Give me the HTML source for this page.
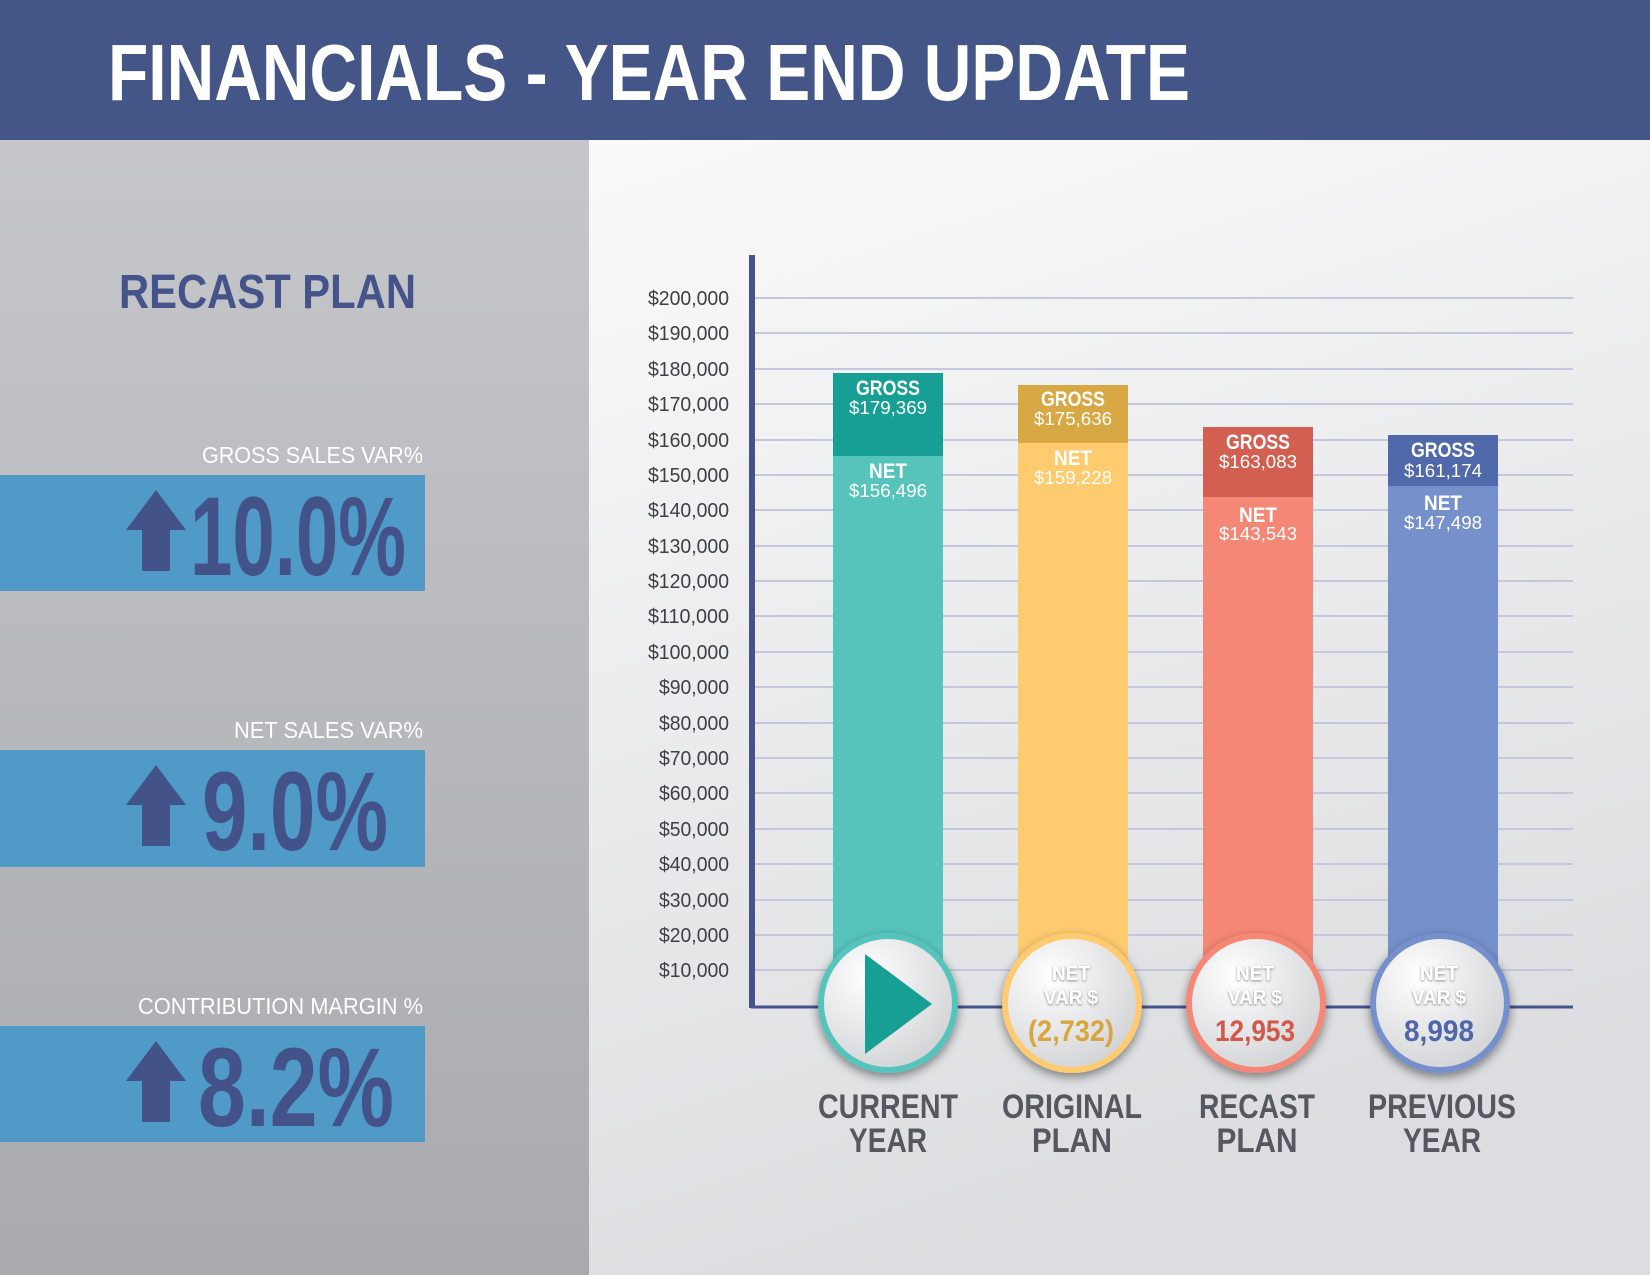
<!DOCTYPE html>
<html><head><meta charset="utf-8"><style>
html,body{margin:0;padding:0;width:1650px;height:1275px;overflow:hidden;}
svg{display:block;font-family:"Liberation Sans Narrow","Liberation Sans",sans-serif;}
</style></head><body>
<svg width="1650" height="1275" viewBox="0 0 1650 1275" xmlns="http://www.w3.org/2000/svg">
<defs>
<linearGradient id="lg" x1="0" y1="0" x2="0" y2="1"><stop offset="0" stop-color="#c6c7ca"/><stop offset="1" stop-color="#a9aaae"/></linearGradient>
<linearGradient id="rg" x1="0" y1="0" x2="0.3" y2="1"><stop offset="0" stop-color="#fafafa"/><stop offset="1" stop-color="#dcdde0"/></linearGradient>
<radialGradient id="cg" cx="0.35" cy="0.3" r="0.8"><stop offset="0" stop-color="#ffffff"/><stop offset="1" stop-color="#cfd0d3"/></radialGradient>
<filter id="sh" x="-30%" y="-30%" width="160%" height="160%"><feDropShadow dx="0" dy="4" stdDeviation="5" flood-color="#000" flood-opacity="0.45"/></filter>
<filter id="ts" x="-20%" y="-20%" width="140%" height="140%"><feDropShadow dx="0" dy="1" stdDeviation="1.2" flood-color="#000" flood-opacity="0.45"/></filter>
</defs>
<rect x="0" y="140" width="589" height="1135" fill="url(#lg)"/>
<rect x="589" y="140" width="1061" height="1135" fill="url(#rg)"/>
<rect x="0" y="0" width="1650" height="140" fill="#445588"/>
<text x="108" y="100" font-size="80" font-weight="bold" fill="#fff" textLength="1082" lengthAdjust="spacingAndGlyphs">FINANCIALS - YEAR END UPDATE</text>

<text x="119" y="308" font-size="48" font-weight="bold" fill="#44538a" textLength="297" lengthAdjust="spacingAndGlyphs">RECAST PLAN</text>

<g fill="#fff" font-size="23">
<text x="202" y="463" textLength="221" lengthAdjust="spacingAndGlyphs">GROSS SALES VAR%</text>
<text x="234" y="738" textLength="189" lengthAdjust="spacingAndGlyphs">NET SALES VAR%</text>
<text x="138" y="1014" textLength="285" lengthAdjust="spacingAndGlyphs">CONTRIBUTION MARGIN %</text>
</g>
<rect x="0" y="475" width="425" height="116" fill="#4f9ac6"/>
<rect x="0" y="750" width="425" height="117" fill="#4f9ac6"/>
<rect x="0" y="1026" width="425" height="116" fill="#4f9ac6"/>
<g fill="#44528a">
<polygon points="156,490 186,530 170,530 170,571 142,571 142,530 126,530"/>
<polygon points="156,765 186,805 170,805 170,846 142,846 142,805 126,805"/>
<polygon points="156,1041 186,1081 170,1081 170,1122 142,1122 142,1081 126,1081"/>
<text x="190" y="575" font-size="112" font-weight="bold" textLength="216" lengthAdjust="spacingAndGlyphs">10.0%</text>
<text x="202" y="850" font-size="112" font-weight="bold" textLength="186" lengthAdjust="spacingAndGlyphs">9.0%</text>
<text x="198" y="1126" font-size="112" font-weight="bold" textLength="196" lengthAdjust="spacingAndGlyphs">8.2%</text>
</g>

<g stroke="#c5c8dc" stroke-width="2">
<line x1="751" x2="1573" y1="298" y2="298"/><line x1="751" x2="1573" y1="333" y2="333"/>
<line x1="751" x2="1573" y1="369" y2="369"/><line x1="751" x2="1573" y1="404" y2="404"/>
<line x1="751" x2="1573" y1="440" y2="440"/><line x1="751" x2="1573" y1="475" y2="475"/>
<line x1="751" x2="1573" y1="510" y2="510"/><line x1="751" x2="1573" y1="546" y2="546"/>
<line x1="751" x2="1573" y1="581" y2="581"/><line x1="751" x2="1573" y1="616" y2="616"/>
<line x1="751" x2="1573" y1="652" y2="652"/><line x1="751" x2="1573" y1="687" y2="687"/>
<line x1="751" x2="1573" y1="723" y2="723"/><line x1="751" x2="1573" y1="758" y2="758"/>
<line x1="751" x2="1573" y1="793" y2="793"/><line x1="751" x2="1573" y1="829" y2="829"/>
<line x1="751" x2="1573" y1="864" y2="864"/><line x1="751" x2="1573" y1="900" y2="900"/>
<line x1="751" x2="1573" y1="935" y2="935"/><line x1="751" x2="1573" y1="970" y2="970"/>
</g>
<line x1="751" x2="1573" y1="1007" y2="1007" stroke="#44538a" stroke-width="3"/>
<line x1="752" x2="752" y1="255" y2="1008" stroke="#44538a" stroke-width="6"/>
<g fill="#3d3f44" font-size="20">
<text x="648" y="305" textLength="81" lengthAdjust="spacingAndGlyphs">$200,000</text><text x="648" y="340" textLength="81" lengthAdjust="spacingAndGlyphs">$190,000</text><text x="648" y="376" textLength="81" lengthAdjust="spacingAndGlyphs">$180,000</text>
<text x="648" y="411" textLength="81" lengthAdjust="spacingAndGlyphs">$170,000</text><text x="648" y="447" textLength="81" lengthAdjust="spacingAndGlyphs">$160,000</text><text x="648" y="482" textLength="81" lengthAdjust="spacingAndGlyphs">$150,000</text>
<text x="648" y="517" textLength="81" lengthAdjust="spacingAndGlyphs">$140,000</text><text x="648" y="553" textLength="81" lengthAdjust="spacingAndGlyphs">$130,000</text><text x="648" y="588" textLength="81" lengthAdjust="spacingAndGlyphs">$120,000</text>
<text x="648" y="623" textLength="81" lengthAdjust="spacingAndGlyphs">$110,000</text><text x="648" y="659" textLength="81" lengthAdjust="spacingAndGlyphs">$100,000</text><text x="659" y="694" textLength="70" lengthAdjust="spacingAndGlyphs">$90,000</text>
<text x="659" y="730" textLength="70" lengthAdjust="spacingAndGlyphs">$80,000</text><text x="659" y="765" textLength="70" lengthAdjust="spacingAndGlyphs">$70,000</text><text x="659" y="800" textLength="70" lengthAdjust="spacingAndGlyphs">$60,000</text>
<text x="659" y="836" textLength="70" lengthAdjust="spacingAndGlyphs">$50,000</text><text x="659" y="871" textLength="70" lengthAdjust="spacingAndGlyphs">$40,000</text><text x="659" y="907" textLength="70" lengthAdjust="spacingAndGlyphs">$30,000</text>
<text x="659" y="942" textLength="70" lengthAdjust="spacingAndGlyphs">$20,000</text><text x="659" y="977" textLength="70" lengthAdjust="spacingAndGlyphs">$10,000</text>
</g>

<rect x="833" y="373" width="110" height="84" fill="#179f96"/><rect x="833" y="456" width="110" height="550" fill="#57c4bc"/>
<rect x="1018" y="385" width="110" height="59" fill="#d8a844"/><rect x="1018" y="443" width="110" height="563" fill="#fecb6f"/>
<rect x="1203" y="427" width="110" height="71" fill="#d35f50"/><rect x="1203" y="497" width="110" height="509" fill="#f48775"/>
<rect x="1388" y="435" width="110" height="52" fill="#5069aa"/><rect x="1388" y="486" width="110" height="520" fill="#7590cb"/>
<g fill="#fff" text-anchor="middle">
<g font-size="21" font-weight="bold">
<text x="888" y="395" textLength="64" lengthAdjust="spacingAndGlyphs">GROSS</text><text x="888" y="478" textLength="38" lengthAdjust="spacingAndGlyphs">NET</text>
<text x="1073" y="406" textLength="64" lengthAdjust="spacingAndGlyphs">GROSS</text><text x="1073" y="465" textLength="38" lengthAdjust="spacingAndGlyphs">NET</text>
<text x="1258" y="449" textLength="64" lengthAdjust="spacingAndGlyphs">GROSS</text><text x="1258" y="522" textLength="38" lengthAdjust="spacingAndGlyphs">NET</text>
<text x="1443" y="457" textLength="64" lengthAdjust="spacingAndGlyphs">GROSS</text><text x="1443" y="510" textLength="38" lengthAdjust="spacingAndGlyphs">NET</text>
</g>
<g font-size="18">
<text x="888" y="414" textLength="78" lengthAdjust="spacingAndGlyphs">$179,369</text><text x="888" y="497" textLength="78" lengthAdjust="spacingAndGlyphs">$156,496</text>
<text x="1073" y="425" textLength="78" lengthAdjust="spacingAndGlyphs">$175,636</text><text x="1073" y="484" textLength="78" lengthAdjust="spacingAndGlyphs">$159,228</text>
<text x="1258" y="468" textLength="78" lengthAdjust="spacingAndGlyphs">$163,083</text><text x="1258" y="540" textLength="78" lengthAdjust="spacingAndGlyphs">$143,543</text>
<text x="1443" y="477" textLength="78" lengthAdjust="spacingAndGlyphs">$161,174</text><text x="1443" y="529" textLength="78" lengthAdjust="spacingAndGlyphs">$147,498</text>
</g>
</g>

<g filter="url(#sh)">
<circle cx="888" cy="1003" r="67" fill="url(#cg)" stroke="#57c4bc" stroke-width="6"/>
<circle cx="1072" cy="1003" r="67" fill="url(#cg)" stroke="#fecb6f" stroke-width="6"/>
<circle cx="1256" cy="1003" r="67" fill="url(#cg)" stroke="#f48775" stroke-width="6"/>
<circle cx="1440" cy="1003" r="67" fill="url(#cg)" stroke="#7590cb" stroke-width="6"/>
</g>
<polygon points="865,954 932,1004 865,1054" fill="#179f96"/>
<g text-anchor="middle" font-weight="bold">
<g fill="#fff" font-size="20" filter="url(#ts)">
<text x="1071" y="980" textLength="38" lengthAdjust="spacingAndGlyphs">NET</text><text x="1071" y="1004" textLength="54" lengthAdjust="spacingAndGlyphs">VAR $</text>
<text x="1255" y="980" textLength="38" lengthAdjust="spacingAndGlyphs">NET</text><text x="1255" y="1004" textLength="54" lengthAdjust="spacingAndGlyphs">VAR $</text>
<text x="1439" y="980" textLength="38" lengthAdjust="spacingAndGlyphs">NET</text><text x="1439" y="1004" textLength="54" lengthAdjust="spacingAndGlyphs">VAR $</text>
</g>
<g font-size="30">
<text x="1071" y="1041" fill="#d9a63b" textLength="86" lengthAdjust="spacingAndGlyphs">(2,732)</text>
<text x="1255" y="1041" fill="#d3574a" textLength="80" lengthAdjust="spacingAndGlyphs">12,953</text>
<text x="1439" y="1041" fill="#4f67aa" textLength="70" lengthAdjust="spacingAndGlyphs">8,998</text>
</g>
<g fill="#55595f" font-size="34">
<text x="888" y="1118" textLength="140" lengthAdjust="spacingAndGlyphs">CURRENT</text><text x="888" y="1152" textLength="78" lengthAdjust="spacingAndGlyphs">YEAR</text>
<text x="1072" y="1118" textLength="140" lengthAdjust="spacingAndGlyphs">ORIGINAL</text><text x="1072" y="1152" textLength="80" lengthAdjust="spacingAndGlyphs">PLAN</text>
<text x="1257" y="1118" textLength="116" lengthAdjust="spacingAndGlyphs">RECAST</text><text x="1257" y="1152" textLength="81" lengthAdjust="spacingAndGlyphs">PLAN</text>
<text x="1442" y="1118" textLength="148" lengthAdjust="spacingAndGlyphs">PREVIOUS</text><text x="1442" y="1152" textLength="78" lengthAdjust="spacingAndGlyphs">YEAR</text>
</g>
</g>
</svg>
</body></html>
